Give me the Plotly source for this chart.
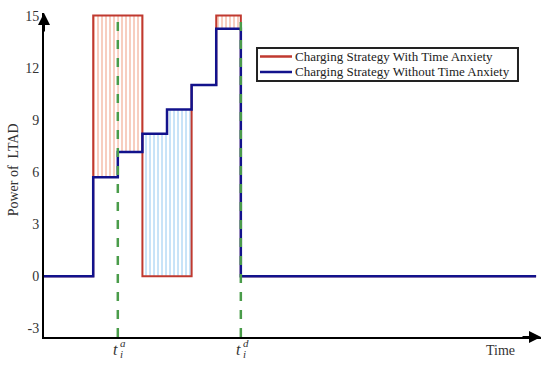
import plotly.graph_objects as go

# step edges on the time axis (interval i runs from edges[i] to edges[i+1])
time_edges = [0, 2, 3, 4, 5, 6, 7, 8, 20]
# power levels per interval
with_anxiety = [0, 15, 15, 0, 0, 11.0, 15, 0]
without_anxiety = [0, 5.7, 7.15, 8.2, 9.6, 11.0, 14.25, 0]

t_arrive = 3
t_depart = 8
y_ticks = [-3, 0, 3, 6, 9, 12, 15]
series_names = ["Charging Strategy With Time Anxiety", "Charging Strategy Without Time Anxiety"]

FONT = "Liberation Serif"
RED = "#c0392f"
BLUE = "#12128c"
GREEN = "#4a9c4a"
Y_MIN, Y_MAX = -3.5, 15.15
X_MAX = 20.2

fig = go.Figure()

# hatched areas between the two strategies
for i in range(len(with_anxiety)):
    r, b = with_anxiety[i], without_anxiety[i]
    if r == b:
        continue
    x0, x1 = time_edges[i], time_edges[i + 1]
    lo, hi = min(r, b), max(r, b)
    if r > b:
        pat = dict(shape="|", fgcolor="#ef9273", bgcolor="white", size=4, solidity=0.45)
    else:
        pat = dict(shape="|", fgcolor="#86c2f0", bgcolor="white", size=4, solidity=0.45)
    fig.add_trace(go.Scatter(
        x=[x0, x1, x1, x0, x0], y=[lo, lo, hi, hi, lo],
        fill="toself", fillpattern=pat, fillcolor="white",
        mode="lines", line=dict(width=0), showlegend=False, hoverinfo="skip",
    ))

fig.add_trace(go.Scatter(
    x=time_edges, y=with_anxiety + [with_anxiety[-1]],
    mode="lines", line=dict(color=RED, width=2, shape="hv"),
    name=series_names[0], showlegend=False,
))
fig.add_trace(go.Scatter(
    x=time_edges, y=without_anxiety + [without_anxiety[-1]],
    mode="lines", line=dict(color=BLUE, width=2.5, shape="hv"),
    name=series_names[1], showlegend=False,
))

# arrival / departure markers
for t in (t_arrive, t_depart):
    fig.add_trace(go.Scatter(
        x=[t, t], y=[Y_MIN, 15], mode="lines",
        line=dict(color=GREEN, width=2.5, dash="dash"),
        showlegend=False, hoverinfo="skip",
    ))

fig.update_layout(
    width=550, height=366,
    margin=dict(l=44, r=9, t=13, b=29),
    paper_bgcolor="white", plot_bgcolor="white",
    font=dict(family=FONT, size=14, color="#333"),
    showlegend=False,
)
fig.update_xaxes(
    range=[0, X_MAX], showgrid=False, zeroline=False, automargin=False,
    showline=True, linecolor="black", linewidth=2,
    tickvals=[], showticklabels=False,
)
fig.update_yaxes(
    range=[Y_MIN, Y_MAX], showgrid=False, zeroline=False, automargin=False,
    showline=True, linecolor="black", linewidth=2,
    tickvals=y_ticks, ticktext=[str(v) for v in y_ticks],
    ticks="", tickfont=dict(family=FONT, size=14, color="#333"),
)

# compact boxed legend, drawn by hand so it can be as tight as the original
fig.add_shape(type="rect", xref="paper", yref="paper", x0=0.4286, x1=0.9537, y0=0.790, y1=0.892,
              line=dict(color="#222", width=2), fillcolor="white")
for name, color, yy in ((series_names[0], RED, 0.866), (series_names[1], BLUE, 0.818)):
    fig.add_shape(type="line", xref="paper", yref="paper", x0=0.4346, x1=0.4990, y0=yy, y1=yy,
                  line=dict(color=color, width=2.5))
    fig.add_annotation(x=0.501, y=yy, xref="paper", yref="paper", text=name, showarrow=False,
                       xanchor="left", yanchor="middle", font=dict(family=FONT, size=13, color="#222"))

# axis arrowheads
fig.add_annotation(x=X_MAX, y=Y_MIN, ax=-20, ay=0, showarrow=True,
                   arrowhead=2, arrowsize=1.2, arrowwidth=2, arrowcolor="black", text="")
fig.add_annotation(x=0, y=Y_MAX, ax=0, ay=20, showarrow=True,
                   arrowhead=2, arrowsize=1.2, arrowwidth=2, arrowcolor="black", text="")

# time tick labels t_i^a, t_i^d
for t, sup in ((t_arrive, "a"), (t_depart, "d")):
    fig.add_annotation(x=t, y=Y_MIN, yref="y", text="<i>t</i>", showarrow=False,
                       yshift=-12, xshift=-2, font=dict(family=FONT, size=16, color="#333"))
    fig.add_annotation(x=t, y=Y_MIN, yref="y", text=f"<i>{sup}</i>", showarrow=False,
                       yshift=-6, xshift=5, font=dict(family=FONT, size=11, color="#333"))
    fig.add_annotation(x=t, y=Y_MIN, yref="y", text="<i>i</i>", showarrow=False,
                       yshift=-17, xshift=4, font=dict(family=FONT, size=11, color="#333"))

fig.add_annotation(x=18.55, y=Y_MIN, yref="y", text="Time", showarrow=False,
                   yshift=-13, font=dict(family=FONT, size=14, color="#333"))
fig.add_annotation(x=-0.062, y=0.515, xref="paper", yref="paper", text="Power of  LTAD",
                   xanchor="center", yanchor="middle",
                   textangle=-90, showarrow=False, font=dict(family=FONT, size=14, color="#333"))

# the page body has a default 8px margin; drop it so the figure sits at the corner
fig.write_html("out.html", config={"displayModeBar": False},
               post_script="document.body.style.margin='0';")
